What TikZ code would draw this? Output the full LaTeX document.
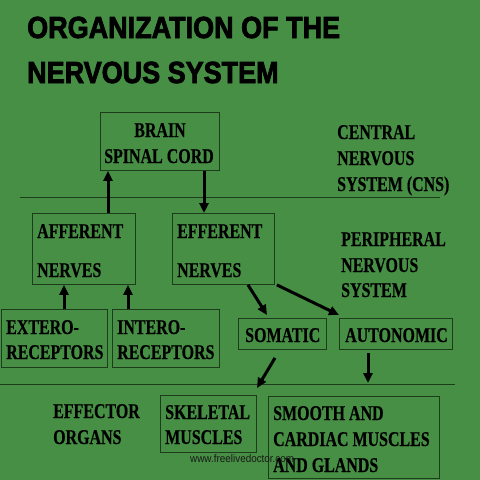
\documentclass[tikz,border=0pt]{standalone}
\usepackage{fontspec}
\usetikzlibrary{arrows.meta}
\newfontfamily\titlefont[FakeStretch=0.885,FakeBold=2.5]{Liberation Sans Bold}
\newfontfamily\bodyfont[FakeStretch=0.76,FakeBold=0.4]{Liberation Serif Bold}
\newfontfamily\wmfont[FakeStretch=0.9]{Liberation Sans}
\definecolor{bggreen}{RGB}{70,143,68}
\definecolor{edgegreen}{RGB}{28,60,28}
\begin{document}
\begin{tikzpicture}[x=1pt,y=-1pt,
  box/.style={draw=edgegreen,line width=0.9pt,inner sep=0pt,anchor=north west},
  title/.style={font=\titlefont\fontsize{30.5}{30}\selectfont,anchor=base west,inner sep=0pt},
  txt/.style={font=\bodyfont\fontsize{21}{21}\selectfont,anchor=base west,inner sep=0pt},
  ctxt/.style={txt,anchor=base},
  arr/.style={line width=3pt,-{Triangle[length=10pt,width=9pt]}},
  sep/.style={draw=edgegreen,line width=0.8pt}]
\fill[bggreen] (0,0) rectangle (480,480);
\useasboundingbox (0,0) rectangle (480,480);
% title
\node[title] (t1) at (27,38) {ORGANIZATION OF THE};
\node[title] (t2) at (27,83) {NERVOUS SYSTEM};
% separators
\draw[sep] (20,197) -- (440,197);
\draw[sep] (0,384) -- (455,384);
% boxes
\node[box,minimum width=119pt,minimum height=58pt] (brainbox) at (100,112) {};
\node[box,minimum width=103pt,minimum height=71pt] (affbox) at (32,213) {};
\node[box,minimum width=102pt,minimum height=71pt] (effbox) at (172,213) {};
\node[box,minimum width=106pt,minimum height=58pt] (extbox) at (1,309) {};
\node[box,minimum width=107pt,minimum height=58pt] (intbox) at (112,309) {};
\node[box,minimum width=88pt,minimum height=31pt] (somabox) at (238,318) {};
\node[box,minimum width=113pt,minimum height=31pt] (autobox) at (339,318) {};
\node[box,minimum width=96pt,minimum height=57pt] (skelbox) at (160,395) {};
\node[box,minimum width=171pt,minimum height=82pt] (smoothbox) at (268,396) {};
% texts
\node[ctxt] (brain) at (160,137) {BRAIN};
\node[ctxt] (spinal) at (159,163) {SPINAL CORD};
\node[txt] (cns1) at (337,139) {CENTRAL};
\node[txt] (cns2) at (337,165) {NERVOUS};
\node[txt] (cns3) at (337,191) {SYSTEM (CNS)};
\node[txt] (aff1) at (37,238) {AFFERENT};
\node[txt] (aff2) at (37,277) {NERVES};
\node[txt] (eff1) at (177,238) {EFFERENT};
\node[txt] (eff2) at (177,277) {NERVES};
\node[txt] (pns1) at (341,246) {PERIPHERAL};
\node[txt] (pns2) at (341,272) {NERVOUS};
\node[txt] (pns3) at (341,297) {SYSTEM};
\node[txt] (ext1) at (6,334) {EXTERO-};
\node[txt] (ext2) at (6,359) {RECEPTORS};
\node[txt] (int1) at (117,334) {INTERO-};
\node[txt] (int2) at (117,359) {RECEPTORS};
\node[txt] (soma) at (245,342) {SOMATIC};
\node[txt] (auto) at (345,342) {AUTONOMIC};
\node[txt] (eo1) at (53,418) {EFFECTOR};
\node[txt] (eo2) at (53,444) {ORGANS};
\node[txt] (sk1) at (165,419) {SKELETAL};
\node[txt] (sk2) at (165,444) {MUSCLES};
\node[txt] (sm1) at (273,420) {SMOOTH AND};
\node[txt] (sm2) at (273,446) {CARDIAC MUSCLES};
\node[txt] (sm3) at (273,472) {AND GLANDS};
\node[font=\wmfont\fontsize{11}{11}\selectfont,text=black!90,anchor=base west,inner sep=0pt] (wm) at (190,462) {www.freelivedoctor.com};
% arrows
\coordinate (l2a) at (368,383);
\draw[arr] ([xshift=76pt]affbox.north west) -- ([xshift=8pt]brainbox.south west);
\draw[arr] ([xshift=104pt]brainbox.south west) -- ([xshift=32pt]effbox.north west);
\draw[arr] ([xshift=63pt]extbox.north west) -- ([xshift=32pt]affbox.south west);
\draw[arr] ([xshift=16pt]intbox.north west) -- ([xshift=96pt]affbox.south west);
\draw[arr] ([xshift=76pt]effbox.south west) -- ([xshift=29pt,yshift=3pt]somabox.north west);
\draw[arr] ([xshift=2pt]effbox.south east) -- ([yshift=3pt]autobox.north west);
\draw[arr] ([xshift=37pt,yshift=-8pt]somabox.south west) -- ([xshift=97pt,yshift=7pt]skelbox.north west);
\draw[arr] ([xshift=29pt,yshift=-3pt]autobox.south west) -- (l2a);
\end{tikzpicture}
\end{document}
